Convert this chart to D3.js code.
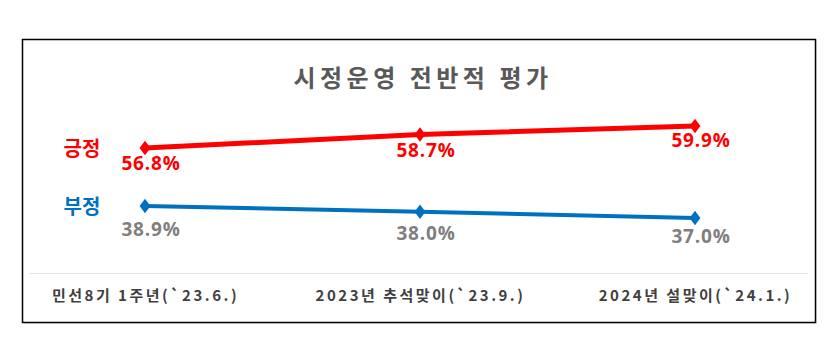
<!DOCTYPE html>
<html><head><meta charset="utf-8">
<script src="https://cdn.jsdelivr.net/npm/d3@7"></script>
<style>
html,body{margin:0;padding:0;background:#fff;}
svg{display:block;font-family:"Noto Sans CJK KR","Noto Sans",sans-serif;}
</style></head>
<body><svg id="c" width="830" height="353"></svg>
<script>
const title = "시정운영 전반적 평가";
const categories = ["민선8기 1주년(`23.6.)", "2023년 추석맞이(`23.9.)", "2024년 설맞이(`24.1.)"];
const positive = [56.8, 58.7, 59.9];
const negative = [38.9, 38.0, 37.0];
const seriesNames = ["긍정", "부정"];

const svg = d3.select("#c");
// frame
svg.append("rect").attr("x",24).attr("y",41).attr("width",793).attr("height",283).attr("fill","#d9d9d9").attr("opacity",0.5);
svg.append("rect").attr("x",22.5).attr("y",39.5).attr("width",793).attr("height",283).attr("fill","#fff").attr("stroke","#000").attr("stroke-width",1.5);

svg.append("text").attr("x",423).attr("y",87).attr("text-anchor","middle")
  .attr("font-size",24).attr("font-weight",700).attr("fill","#595959").attr("letter-spacing",4.5).text(title);

const x = d3.scalePoint().domain(categories).range([145,695]);
// piecewise scale (chart has broken vertical axis between the two series)
const y = d3.scaleLinear().domain([35,41,55,61]).range([230.6,192.8,160.8,118.2]);

// separator
svg.append("line").attr("x1",30).attr("x2",808).attr("y1",273.5).attr("y2",273.5).attr("stroke","#e3e3e3").attr("stroke-width",1);

// category axis
const ax = svg.append("g").attr("transform","translate(0,287)").call(d3.axisBottom(x).tickSize(0).tickPadding(0));
ax.select(".domain").remove();
ax.selectAll("text").attr("font-size",15).attr("font-weight",700).attr("fill","#404040")
  .attr("letter-spacing",2.5).attr("font-family","'Noto Sans CJK KR',sans-serif").attr("dy","0.95em");

const series = [
  {name: seriesNames[0], vals: positive, color:"#ff0000", labelColor:"#ff0000", w:5, dy:[15,16,14]},
  {name: seriesNames[1], vals: negative, color:"#0070c0", labelColor:"#7f7f7f", w:4, dy:[23,22,18]}
];
const line = d3.line().x((d,i)=>x(categories[i])).y(d=>y(d));
series.forEach(s=>{
  svg.append("path").datum(s.vals).attr("d",line).attr("fill","none").attr("stroke",s.color).attr("stroke-width",s.w);
  svg.selectAll(null).data(s.vals).enter().append("path")
    .attr("d",d3.symbol(d3.symbolDiamond,60)())
    .attr("transform",(d,i)=>`translate(${x(categories[i])},${y(d)}) scale(1.3,1)`)
    .attr("fill",s.color);
  svg.selectAll(null).data(s.vals).enter().append("text")
    .attr("x",(d,i)=>x(categories[i])+6).attr("y",(d,i)=>y(d)+s.dy[i]).attr("dy","0.35em")
    .attr("text-anchor","middle").attr("font-size",19).attr("font-weight",700).attr("fill",s.labelColor)
    .attr("letter-spacing",0.8)
    .attr("font-family","'Open Sans','Noto Sans',sans-serif")
    .text(d=>d.toFixed(1)+"%");
  svg.append("text").attr("x",82).attr("y",y(s.vals[0])+1).attr("dy","0.35em").attr("text-anchor","middle")
    .attr("font-size",20).attr("font-weight",700).attr("fill",s.color).text(s.name);
});
</script></body></html>
